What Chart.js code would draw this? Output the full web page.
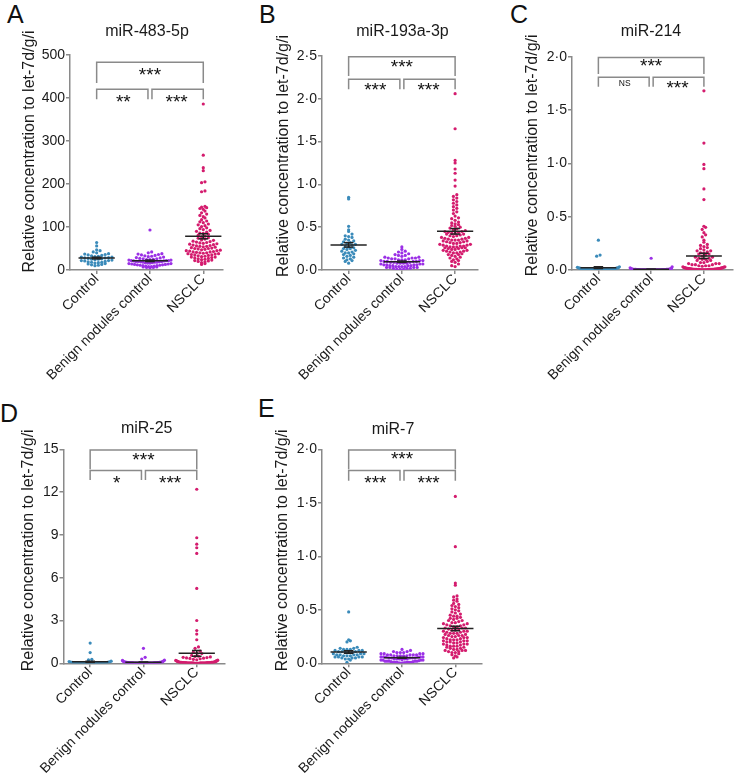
<!DOCTYPE html>
<html><head><meta charset="utf-8">
<script src="https://cdn.jsdelivr.net/npm/chart.js@4.4.1/dist/chart.umd.min.js"></script>
<style>
html,body{margin:0;padding:0;background:#fff;width:734px;height:774px;overflow:hidden;position:relative;font-family:"Liberation Sans",Arial,sans-serif}
.letter{position:absolute;font-size:25px;color:#111;line-height:1;font-family:"Liberation Sans",Arial,sans-serif}
</style></head><body>
<div class="letter" style="left:7px;top:2px">A</div>
<div class="letter" style="left:259px;top:2px">B</div>
<div class="letter" style="left:510px;top:2px">C</div>
<div class="letter" style="left:0px;top:401px">D</div>
<div class="letter" style="left:258px;top:396px">E</div>
<script>
const categories = ['Control', 'Benign nodules control', 'NSCLC'];
const groupColors = ['#3b8bba', '#9b30e6', '#d41c6e'];

// Panel A: miR-483-5p
const ctrlA = [64,56,47,45,42,40,38,37,36,35,34,33,32,31,30,30,29,28,28,27,26,25,25,24,23,22,22,21,20,19,18,18,17,16,15,14,13,12,11,10];
const benA = [93,42,40,38,37,36,35,34,33,32,31,30,29,28,27,26,26,25,24,24,23,22,22,21,20,20,19,18,18,17,17,16,16,15,15,14,14,13,13,12,12,11,11,10,10,9,9,8,8,7,7,6,6,5,20,19,22,18,21,23];
const nsA = [386,267,238,231,205,203,184,182,148,146,145,143,141,137,133,130,127,124,121,117,114,112,110,107,105,103,101,98,96,94,92,90,88,86,85,83,81,79,77,75,74,72,70,69,67,66,65,64,63,62,61,60,59,58,57,56,55,55,54,53,52,51,50,50,49,48,47,46,45,45,44,43,42,42,41,40,40,39,38,38,37,36,35,35,34,33,32,31,30,30,29,28,27,26,25,24,23,22,21,20,19,17,15,13];
const yTicksA = [0,100,200,300,400,500];
const yLabelsA = ['0','100','200','300','400','500'];
const sigA = ['***','**','***'];

// Panel B: miR-193a-3p
const ctrlB = [0.85,0.83,0.51,0.47,0.45,0.42,0.40,0.39,0.38,0.36,0.35,0.34,0.33,0.32,0.31,0.30,0.30,0.29,0.28,0.27,0.26,0.25,0.25,0.24,0.23,0.22,0.21,0.20,0.20,0.19,0.18,0.17,0.16,0.15,0.14,0.13,0.12,0.11,0.10,0.08];
const benB = [0.27,0.24,0.22,0.21,0.20,0.19,0.18,0.17,0.17,0.16,0.15,0.15,0.14,0.14,0.14,0.13,0.13,0.13,0.12,0.12,0.12,0.11,0.11,0.11,0.10,0.10,0.10,0.10,0.09,0.09,0.09,0.08,0.08,0.08,0.08,0.07,0.07,0.07,0.06,0.06,0.06,0.06,0.05,0.05,0.05,0.05,0.04,0.04,0.04,0.04,0.03,0.03,0.03,0.03,0.02,0.02,0.02,0.01,0.01,0.01];
const nsB = [2.06,1.65,1.28,1.25,1.18,1.13,1.05,0.98,0.88,0.86,0.84,0.82,0.80,0.78,0.76,0.74,0.72,0.70,0.68,0.66,0.63,0.61,0.60,0.58,0.56,0.55,0.54,0.53,0.52,0.51,0.50,0.49,0.48,0.47,0.46,0.45,0.44,0.43,0.42,0.41,0.40,0.40,0.39,0.38,0.37,0.37,0.36,0.35,0.35,0.34,0.33,0.33,0.32,0.31,0.31,0.30,0.30,0.29,0.29,0.28,0.28,0.27,0.27,0.26,0.26,0.25,0.25,0.24,0.24,0.23,0.23,0.22,0.22,0.21,0.21,0.20,0.20,0.19,0.18,0.18,0.17,0.16,0.15,0.14,0.13,0.12,0.11,0.10,0.09,0.07,0.05,0.04,0.45,0.43,0.38,0.36,0.34,0.32,0.28,0.26,0.44,0.42,0.35,0.27];
const yTicksB = [0,0.5,1,1.5,2,2.5];
const yLabelsB = ['0·0','0·5','1·0','1·5','2·0','2·5'];
const sigB = ['***','***','***'];

// Panel C: miR-214
const ctrlC = [0.28,0.14,0.13,0.03,0.025,0.02,0.02,0.02,0.018,0.016,0.015,0.014,0.013,0.012,0.011,0.01,0.01,0.009,0.008,0.008,0.007,0.007,0.006,0.006,0.005,0.005,0.005,0.004,0.004,0.004,0.003,0.003,0.003,0.002,0.002,0.002,0.001,0.001,0.001,0.001];
const benC = [0.11,0.03,0.02,0.015,0.012,0.01,0.01,0.009,0.008,0.008,0.007,0.007,0.006,0.006,0.006,0.005,0.005,0.005,0.005,0.004,0.004,0.004,0.004,0.004,0.003,0.003,0.003,0.003,0.003,0.003,0.002,0.002,0.002,0.002,0.002,0.002,0.002,0.002,0.001,0.001,0.001,0.001,0.001,0.001,0.001,0.001,0.001,0.001,0.001,0.001,0.0005,0.0005,0.0005,0.0005,0.0005,0.0005,0.0005,0.0005,0.0005,0.0005];
const nsC = [1.68,1.19,0.99,0.95,0.76,0.66,0.41,0.40,0.38,0.35,0.33,0.31,0.28,0.26,0.24,0.23,0.22,0.21,0.20,0.19,0.18,0.18,0.17,0.16,0.16,0.15,0.15,0.14,0.13,0.12,0.12,0.11,0.11,0.10,0.10,0.09,0.09,0.08,0.07,0.07,0.06,0.06,0.06,0.05,0.05,0.05,0.04,0.04,0.04,0.035,0.03,0.03,0.028,0.025,0.025,0.022,0.02,0.02,0.02,0.018,0.017,0.016,0.015,0.015,0.014,0.013,0.012,0.012,0.011,0.01,0.01,0.01,0.009,0.009,0.008,0.008,0.008,0.007,0.007,0.007,0.006,0.006,0.006,0.005,0.005,0.005,0.005,0.004,0.004,0.004,0.004,0.003,0.003,0.003,0.003,0.002,0.002,0.002,0.002,0.001,0.001,0.001,0.001,0.001];
const yTicksC = [0,0.5,1,1.5,2];
const yLabelsC = ['0·0','0·5','1·0','1·5','2·0'];
const sigC = ['***','NS','***'];

// Panel D: miR-25
const ctrlD = [1.42,0.75,0.28,0.24,0.15,0.12,0.10,0.09,0.08,0.07,0.06,0.06,0.05,0.05,0.05,0.04,0.04,0.04,0.03,0.03,0.03,0.03,0.02,0.02,0.02,0.02,0.02,0.02,0.01,0.01,0.01,0.01,0.01,0.01,0.01,0.005,0.005,0.005,0.005,0.005];
const benD = [1.05,0.42,0.30,0.22,0.20,0.18,0.15,0.12,0.10,0.10,0.09,0.08,0.08,0.07,0.07,0.06,0.06,0.06,0.05,0.05,0.05,0.05,0.04,0.04,0.04,0.04,0.04,0.03,0.03,0.03,0.03,0.03,0.03,0.02,0.02,0.02,0.02,0.02,0.02,0.02,0.015,0.015,0.015,0.01,0.01,0.01,0.01,0.01,0.01,0.01,0.008,0.008,0.006,0.006,0.005,0.005,0.004,0.003,0.002,0.001];
const nsD = [12.2,8.8,8.35,8.1,7.7,5.25,3.0,2.3,2.05,1.65,1.15,1.05,0.85,0.78,0.72,0.68,0.55,0.50,0.48,0.45,0.42,0.40,0.38,0.36,0.34,0.32,0.28,0.25,0.22,0.20,0.19,0.18,0.17,0.16,0.15,0.14,0.13,0.12,0.09,0.09,0.08,0.08,0.08,0.07,0.07,0.07,0.07,0.06,0.06,0.06,0.06,0.05,0.05,0.05,0.05,0.05,0.04,0.04,0.04,0.04,0.04,0.04,0.03,0.03,0.03,0.03,0.03,0.03,0.03,0.02,0.02,0.02,0.02,0.02,0.02,0.02,0.02,0.015,0.015,0.015,0.015,0.01,0.01,0.01,0.01,0.01,0.01,0.01,0.01,0.008,0.008,0.007,0.006,0.006,0.005,0.005,0.004,0.004,0.003,0.003,0.002,0.002,0.001,0.001];
const yTicksD = [0,3,6,9,12,15];
const yLabelsD = ['0','3','6','9','12','15'];
const sigD = ['***','*','***'];

// Panel E: miR-7
const ctrlE = [0.48,0.22,0.21,0.20,0.15,0.14,0.14,0.13,0.13,0.13,0.12,0.12,0.12,0.11,0.11,0.11,0.10,0.10,0.10,0.09,0.09,0.09,0.08,0.08,0.08,0.08,0.07,0.07,0.07,0.06,0.06,0.06,0.06,0.05,0.05,0.05,0.04,0.04,0.03,0.01];
const benE = [0.13,0.12,0.11,0.11,0.10,0.10,0.10,0.09,0.09,0.09,0.09,0.08,0.08,0.08,0.08,0.08,0.07,0.07,0.07,0.07,0.07,0.06,0.06,0.06,0.06,0.06,0.06,0.05,0.05,0.05,0.05,0.05,0.04,0.04,0.04,0.04,0.04,0.035,0.03,0.03,0.03,0.03,0.025,0.02,0.02,0.02,0.02,0.02,0.015,0.015,0.01,0.01,0.01,0.01,0.01,0.008,0.006,0.005,0.004,0.003];
const nsE = [1.56,1.09,0.75,0.73,0.63,0.62,0.60,0.59,0.56,0.55,0.53,0.52,0.51,0.50,0.49,0.48,0.47,0.46,0.45,0.44,0.43,0.42,0.41,0.40,0.40,0.39,0.38,0.37,0.36,0.36,0.35,0.35,0.34,0.34,0.33,0.33,0.32,0.32,0.31,0.31,0.30,0.30,0.29,0.29,0.28,0.28,0.27,0.27,0.26,0.26,0.25,0.25,0.24,0.24,0.23,0.23,0.22,0.22,0.21,0.21,0.20,0.20,0.20,0.19,0.19,0.18,0.18,0.17,0.17,0.16,0.16,0.15,0.15,0.14,0.14,0.13,0.13,0.12,0.12,0.11,0.11,0.10,0.10,0.09,0.08,0.07,0.06,0.05,0.58,0.54,0.44,0.42,0.38,0.37,0.33,0.30,0.28,0.26,0.24,0.22,0.21,0.18,0.16,0.12];
const yTicksE = [0,0.5,1,1.5,2];
const yLabelsE = ['0·0','0·5','1·0','1·5','2·0'];
const sigE = ['***','***','***'];

const titles = ['miR-483-5p','miR-193a-3p','miR-214','miR-25','miR-7'];
const yAxisTitle = 'Relative concentration to let-7d/g/i';

const FONT = '"Liberation Sans", Arial, sans-serif';
Chart.defaults.font.family = FONT;

const panels = [
  {title:titles[0], groups:[ctrlA,benA,nsA], yMax:500, yTicks:yTicksA, yLabels:yLabelsA, sig:sigA,
   box:{left:0,top:0,w:245,h:380}, area:{left:70,top:55,right:223,bottom:270}, xMax:2.37,
   titleX:147, titleY:32, yTitleX:30, yTitleDY:-11, br:[7.3,28,34.3,44.3,15,41.7]},
  {title:titles[1], groups:[ctrlB,benB,nsB], yMax:2.5, yTicks:yTicksB, yLabels:yLabelsB, sig:sigB,
   box:{left:245,top:0,w:245,h:380}, area:{left:77,top:56,right:233,bottom:270}, xMax:2.43,
   titleX:157.5, titleY:32, yTitleX:39, yTitleDY:-7, br:[0.8,20,23.3,33.3,5.7,29]},
  {title:titles[2], groups:[ctrlC,benC,nsC], yMax:2.0, yTicks:yTicksC, yLabels:yLabelsC, sig:sigC,
   box:{left:490,top:0,w:244,h:380}, area:{left:82,top:56.7,right:244,bottom:270}, xMax:2.54,
   titleX:161, titleY:32, yTitleX:42.5, yTitleDY:-8, br:[0.8,17.3,20.6,30,4,26.6]},
  {title:titles[3], groups:[ctrlD,benD,nsD], yMax:15, yTicks:yTicksD, yLabels:yLabelsD, sig:sigD,
   box:{left:0,top:380,w:245,h:394}, area:{left:63.5,top:69.3,right:225,bottom:283.3}, xMax:2.53,
   titleX:146.7, titleY:49, yTitleX:29, yTitleDY:-6, br:[0.8,20,21.3,30.7,5.7,28.4]},
  {title:titles[4], groups:[ctrlE,benE,nsE], yMax:2.0, yTicks:yTicksE, yLabels:yLabelsE, sig:sigE,
   box:{left:245,top:380,w:245,h:394}, area:{left:77,top:69.3,right:237,bottom:283.3}, xMax:2.50,
   titleX:148, titleY:50, yTitleX:37.5, yTitleDY:-6, br:[0.8,20,21.3,31.4,4.7,29]}
];

function mean(a){return a.reduce((s,v)=>s+v,0)/a.length;}
function sem(a){const m=mean(a);const v=a.reduce((s,x)=>s+(x-m)*(x-m),0)/(a.length-1);return Math.sqrt(v/a.length);}

const annotPlugin = {
  id:'annot',
  afterDraw(chart, args, opts){
    const p = opts.panel; if(!p) return;
    const ctx = chart.ctx, xs = chart.scales.x, ca = chart.chartArea;
    const x0 = xs.getPixelForValue(0), x1 = xs.getPixelForValue(1), x2 = xs.getPixelForValue(2);
    const [tl, td, sl, sd, s1, s2] = p.br; const T = ca.top;
    ctx.save();
    ctx.strokeStyle = '#8a8a8a'; ctx.lineWidth = 1.5;
    ctx.beginPath();
    ctx.moveTo(x0, T+td); ctx.lineTo(x0, T+tl); ctx.lineTo(x2, T+tl); ctx.lineTo(x2, T+td);
    ctx.moveTo(x0, T+sd); ctx.lineTo(x0, T+sl); ctx.lineTo(x1-2, T+sl); ctx.lineTo(x1-2, T+sd);
    ctx.moveTo(x1+2, T+sd); ctx.lineTo(x1+2, T+sl); ctx.lineTo(x2, T+sl); ctx.lineTo(x2, T+sd);
    ctx.stroke();
    ctx.fillStyle = '#111'; ctx.textAlign = 'center'; ctx.textBaseline = 'alphabetic';
    const star = (txt, cx, cy) => {
      if (txt === 'NS') { const fs = 8.5; ctx.font = fs + 'px ' + FONT; ctx.fillText(txt, cx, cy + 0.36*fs); }
      else { const fs = 19; ctx.font = fs + 'px ' + FONT; ctx.fillText(txt, cx, cy + 0.575*fs); }
    };
    star(p.sig[0], (x0+x2)/2, T+s1);
    star(p.sig[1], (x0+x1)/2, T+s2);
    star(p.sig[2], (x1+x2)/2, T+s2);
    ctx.fillStyle = '#1a1a1a';
    ctx.font = '16px ' + FONT; ctx.textBaseline = 'middle';
    ctx.fillText(p.title, p.titleX, p.titleY);
    ctx.save();
    ctx.translate(p.yTitleX, (ca.top+ca.bottom)/2 + p.yTitleDY);
    ctx.rotate(-Math.PI/2);
    ctx.font = '16px ' + FONT; ctx.textAlign = 'center'; ctx.textBaseline = 'middle';
    ctx.fillText(yAxisTitle, 0, 0);
    ctx.restore();
    ctx.restore();
  }
};

function beeswarm(chart){
  const xs = chart.scales.x, ys = chart.scales.y;
  const ppu = xs.getPixelForValue(1) - xs.getPixelForValue(0);
  const base = ys.getPixelForValue(0);
  const rowH = 3.3, step = 3.4, maxHalf = 21;
  chart.data.datasets.forEach(ds => {
    if (ds.groupIndex === undefined) return;
    const gi = ds.groupIndex;
    const bins = new Map();
    ds.data.forEach(pt => {
      const h = base - ys.getPixelForValue(pt.y);
      const b = Math.floor(h / rowH);
      if (!bins.has(b)) bins.set(b, []);
      bins.get(b).push(pt);
    });
    bins.forEach(arr => {
      arr.sort((a,b) => a.y - b.y);
      const n = arr.length;
      const s = n > 1 ? Math.min(step, 2*maxHalf/(n-1)) : 0;
      const slots = [];
      for (let k = 0; k < n; k++) slots.push((k - (n-1)/2) * s);
      slots.sort((a,b) => Math.abs(a) - Math.abs(b) || a - b);
      arr.forEach((pt,k) => { pt.x = gi + slots[k]/ppu; });
    });
  });
  chart.update('none');
}

panels.forEach(p => {
  const cv = document.createElement('canvas');
  cv.width = p.box.w; cv.height = p.box.h;
  cv.style.cssText = `position:absolute;left:${p.box.left}px;top:${p.box.top}px;width:${p.box.w}px;height:${p.box.h}px`;
  document.body.appendChild(cv);
  const datasets = [];
  p.groups.forEach((vals, i) => {
    const m = mean(vals), se = sem(vals);
    const lineDs = (data) => ({type:'line', data, borderColor:'#222', borderWidth:1.5, pointRadius:0, fill:false, order:0, tension:0});
    datasets.push(lineDs([{x:i-0.34,y:m},{x:i+0.34,y:m}]));
    datasets.push(lineDs([{x:i,y:m-se},{x:i,y:m+se}]));
    datasets.push(lineDs([{x:i-0.09,y:m+se},{x:i+0.09,y:m+se}]));
    datasets.push(lineDs([{x:i-0.09,y:m-se},{x:i+0.09,y:m-se}]));
  });
  p.groups.forEach((vals, i) => {
    datasets.push({type:'scatter', groupIndex:i, data: vals.map(v => ({x:i, y:v})),
      backgroundColor: groupColors[i], borderWidth:0, pointRadius:1.6, pointHoverRadius:1.6, order:1});
  });
  const axisCommon = {
    grid:{drawOnChartArea:false, drawTicks:true, tickLength:4, color:'#8a8a8a', lineWidth:1.5},
    border:{display:true, color:'#8a8a8a', width:1.5}
  };
  const chart = new Chart(cv, {
    type:'scatter',
    data:{datasets},
    options:{
      responsive:false, animation:false, devicePixelRatio:1,
      layout:{padding:{left:0, top:p.area.top, right:p.box.w - p.area.right, bottom:0}},
      plugins:{legend:{display:false}, tooltip:{enabled:false}, title:{display:false}, annot:{panel:p}},
      scales:{
        x:{type:'linear', min:-0.5, max:p.xMax, ...axisCommon,
          afterFit: s => { s.height = p.box.h - p.area.bottom; },
          afterBuildTicks: s => { s.ticks = categories.map((c,i) => ({value:i})); },
          ticks:{callback:(v,i) => categories[i], minRotation:45, maxRotation:45, autoSkip:false,
                 font:{size:14, family:FONT}, color:'#1a1a1a', padding:-3}},
        y:{type:'linear', min:0, max:p.yMax, ...axisCommon,
          afterFit: s => { s.width = p.area.left; },
          afterBuildTicks: s => { s.ticks = p.yTicks.map(v => ({value:v})); },
          ticks:{callback:(v,i) => p.yLabels[i], font:{size:14, family:FONT}, color:'#1a1a1a', padding:1}}
      }
    },
    plugins:[annotPlugin]
  });
  beeswarm(chart);
});
</script>
</body></html>
